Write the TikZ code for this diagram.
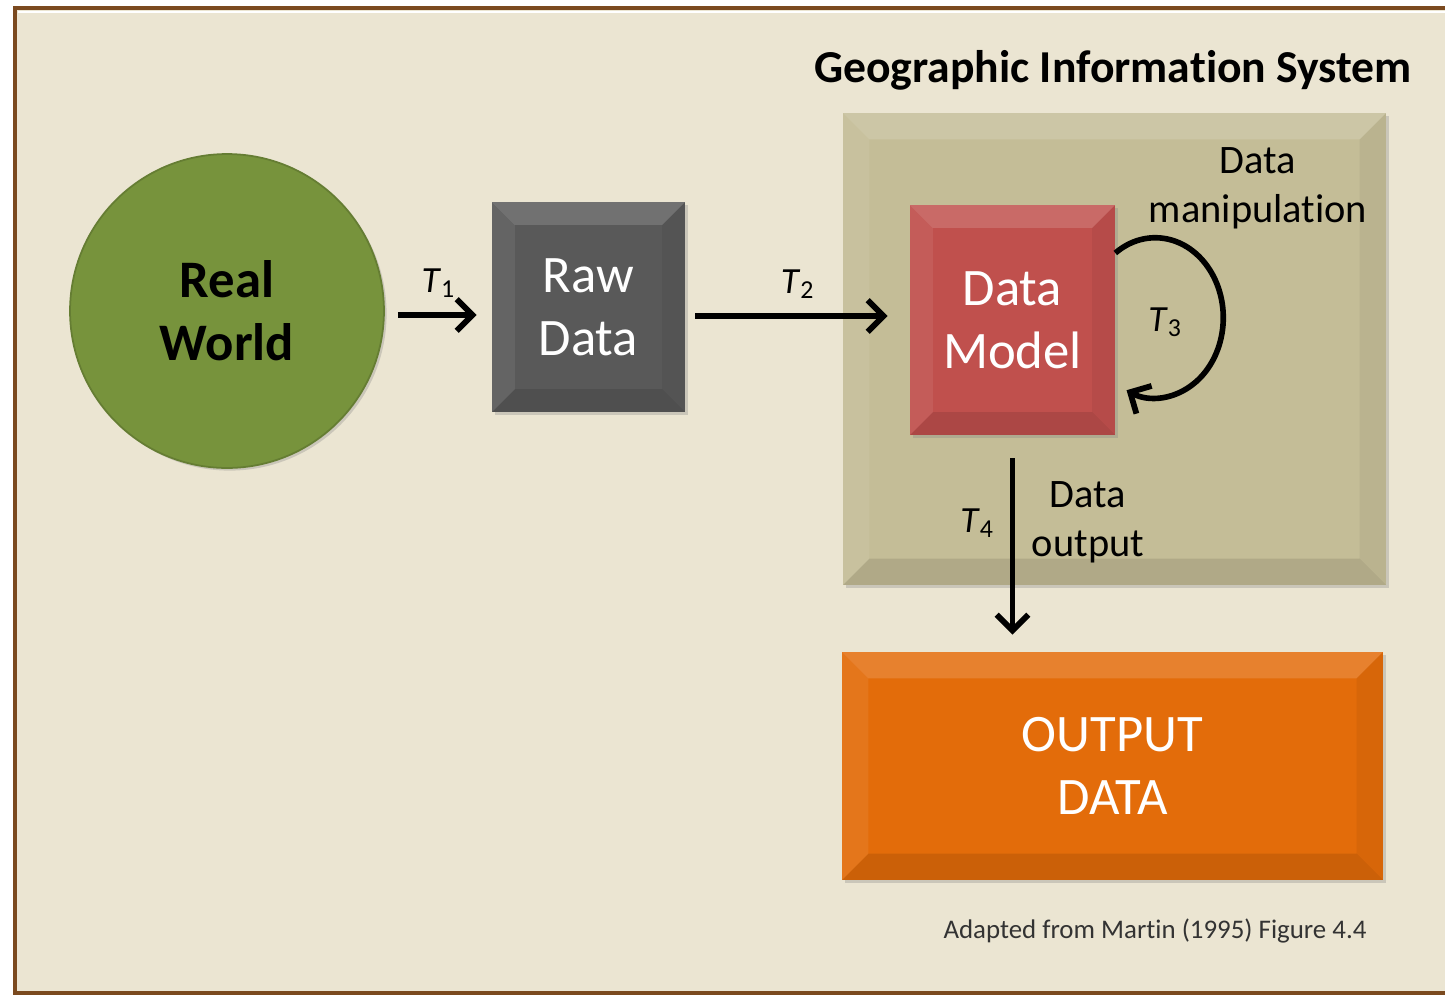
\documentclass[tikz,border=0pt]{standalone}
\usepackage{fontspec}
\setmainfont{Carlito}[Ligatures=NoCommon]
\usetikzlibrary{positioning}
\usetikzlibrary{arrows.meta}
\usetikzlibrary{shadows}

\definecolor{framebg}{HTML}{EBE5D2}
\definecolor{framebrown}{HTML}{7B4A1F}
\definecolor{worldgreen}{HTML}{77933C}
\definecolor{rawgray}{HTML}{595959}
\definecolor{gisbg}{HTML}{C4BD97}
\definecolor{modelred}{HTML}{C0504D}
\definecolor{outorange}{HTML}{E36C0A}

\newcommand{\tsym}[1]{\textit{T}\textsubscript{#1}}

\tikzset{
	bevel/.style={path picture={
		\fill[white, opacity=0.15] (path picture bounding box.north west) -- (path picture bounding box.north east) -- ([shift={(-#1,-#1)}]path picture bounding box.north east) -- ([shift={(#1,-#1)}]path picture bounding box.north west) -- cycle;
		\fill[white, opacity=0.07] (path picture bounding box.north west) -- (path picture bounding box.south west) -- ([shift={(#1,#1)}]path picture bounding box.south west) -- ([shift={(#1,-#1)}]path picture bounding box.north west) -- cycle;
		\fill[black, opacity=0.05] (path picture bounding box.north east) -- (path picture bounding box.south east) -- ([shift={(-#1,#1)}]path picture bounding box.south east) -- ([shift={(-#1,-#1)}]path picture bounding box.north east) -- cycle;
		\fill[black, opacity=0.10] (path picture bounding box.south west) -- (path picture bounding box.south east) -- ([shift={(-#1,#1)}]path picture bounding box.south east) -- ([shift={(#1,#1)}]path picture bounding box.south west) -- cycle;
	}},
	box/.style={rectangle, inner sep=0pt, text=white, font=\fontsize{30}{36}\selectfont,
		drop shadow={opacity=0.3, shadow xshift=1.5pt, shadow yshift=-1.5pt}}
}

\begin{document}
\begin{tikzpicture}[x=0.02cm, y=0.02cm,
			every text node part/.style={align=center},
			flow/.style={-{Straight Barb[length=9pt, width=18pt, line width=3.3pt]}, line width=3.2pt},
			tlabel/.style={font=\fontsize{21}{24}\selectfont},
			note/.style={font=\fontsize{23}{28}\selectfont}]
	\useasboundingbox (0,0) rectangle (1445,-995);
	\fill[white] (0,0) rectangle (1445,-995);
	\draw[framebrown, line width=2.2pt, fill=framebg] (15,-8) rectangle (1470,-993);
	\draw[white, line width=1.5pt] (18,-12) -- (1445,-12);
	
	\node[circle, minimum size=6.28cm, fill=worldgreen, draw=worldgreen!85!black, line width=1pt,
		drop shadow={opacity=0.3, shadow xshift=1.5pt, shadow yshift=-1.5pt},
		font=\bfseries\fontsize{30}{36}\selectfont] (world) at (227,-311) {Real\\World};
	
	\node[box, bevel=13pt, fill=rawgray, minimum width=3.86cm, minimum height=4.2cm] (raw) at (588.5,-307) {Raw\\Data};
	
	\node[box, bevel=15pt, fill=gisbg, minimum width=10.86cm, minimum height=9.44cm] (gis) at (1114.5,-349) {};
	\node[font=\bfseries\fontsize{26}{30}\selectfont] (gistitle) at (1113,-70) {Geographic Information System};
	
	\node[box, bevel=13pt, fill=modelred, minimum width=4.1cm, minimum height=4.6cm] (model) at (1012.5,-320) {Data\\Model};
	
	\node[box, bevel=15pt, fill=outorange, minimum width=10.82cm, minimum height=4.56cm] (output) at (1112.5,-766) {OUTPUT\\DATA};
	
	% transformations
	\draw[flow, shorten <=0.26cm, shorten >=0.3cm] (world.east |- 0,-315) -- (raw.west |- 0,-315)
		node[tlabel, midway, above=5pt] (t1) {\tsym{1}};
	\draw[flow, shorten <=0.2cm, shorten >=0.44cm] ([yshift=-0.18cm]raw.east) -- ([yshift=-0.18cm]raw.east -| model.west)
		node[tlabel, midway, above=5pt] (t2) {\tsym{2}};
	\draw[flow] ([yshift=1.34cm]model.east) arc[start angle=126, end angle=-115, x radius=1.36cm, y radius=1.6cm];
	\node[tlabel] (t3) at (1165,-322) {\tsym{3}};
	\node[note] (manip) at (1258,-188) {Data\\manipulation};
	\draw[flow, shorten <=0.46cm, shorten >=0.34cm] (model.south) -- (model.south |- output.north);
	\node[tlabel] (t4) at (977,-523) {\tsym{4}};
	\node[note] (dataout) at (1088,-522) {Data\\output};
	
	\node[font=\fontsize{15.3}{18}\selectfont, text=black!80] (source) at (1155,-931) {Adapted from Martin (1995) Figure 4.4};
\end{tikzpicture}
\end{document}
